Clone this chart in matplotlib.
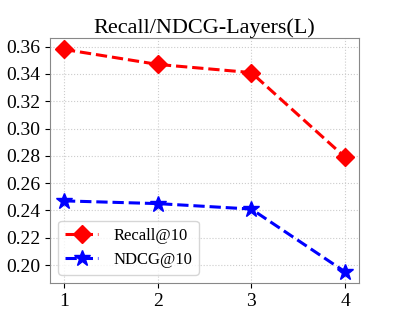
import numpy as np
import matplotlib.pyplot as plt

plt.rcParams['font.family'] = ['Liberation Serif', 'DejaVu Serif']

layers = [1, 2, 3, 4]
recall = [0.358, 0.347, 0.341, 0.279]
ndcg = [0.247, 0.245, 0.241, 0.195]

fig, ax = plt.subplots(figsize=(3.99, 3.19), dpi=100)
ax.plot(layers, recall, 'D--', color='red', lw=2.2, ms=9, label='Recall@10')
ax.plot(layers, ndcg, '*--', color='blue', lw=2.2, ms=12, label='NDCG@10')

ax.set_title('Recall/NDCG-Layers(L)', fontsize=16, pad=3)
ax.set_xticks(layers)
ax.set_yticks(np.arange(0.20, 0.361, 0.02))
ax.tick_params(labelsize=14)
ax.grid(True, ls=':', color='#cccccc', lw=0.8)
for s in ax.spines.values():
    s.set_color('#888888')
ax.legend(loc='lower left', fontsize=12, handlelength=2.0, handletextpad=0.9,
          borderaxespad=0.5)

plt.subplots_adjust(left=0.125, right=0.9, top=0.88, bottom=0.113)
plt.savefig('out.png')
